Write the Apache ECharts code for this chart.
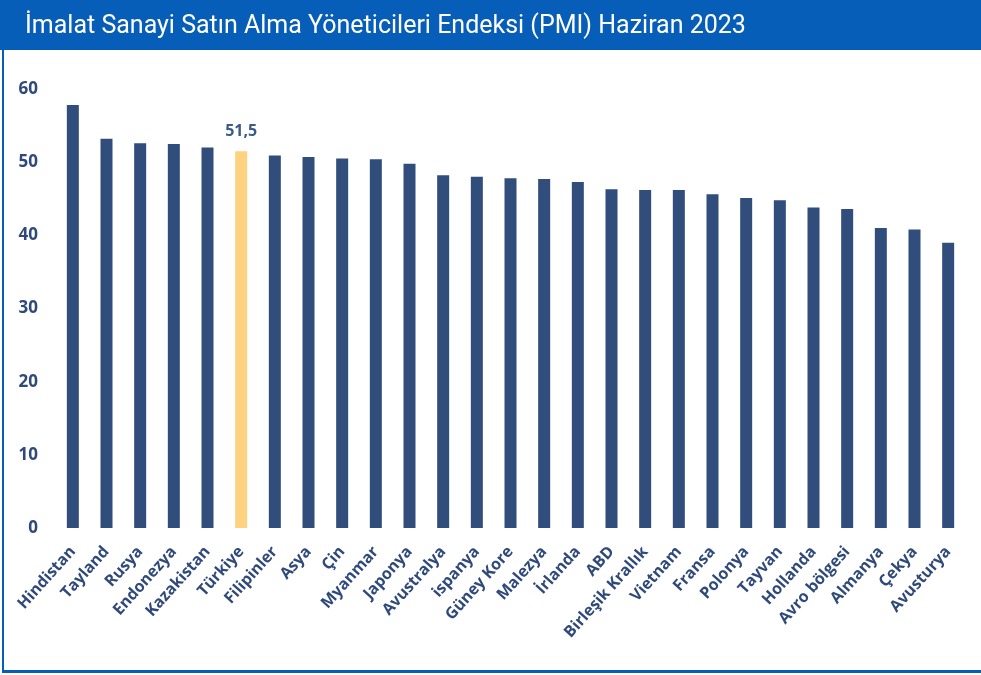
<!DOCTYPE html>
<html>
<head>
<meta charset="utf-8">
<script src="https://cdn.jsdelivr.net/npm/echarts@6/dist/echarts.min.js"></script>
<style>
  html, body { margin: 0; padding: 0; background: #fff; }
  #chart { width: 981px; height: 675px; }
</style>
</head>
<body>
<div id="chart"></div>
<script>
// ülkeler ve Haziran 2023 PMI değerleri
var countries = ['Hindistan', 'Tayland', 'Rusya', 'Endonezya', 'Kazakistan', 'Türkiye', 'Filipinler', 'Asya', 'Çin',
  'Myanmar', 'Japonya', 'Avustralya', 'ispanya', 'Güney Kore', 'Malezya', 'İrlanda', 'ABD', 'Birleşik Krallık',
  'Vietnam', 'Fransa', 'Polonya', 'Tayvan', 'Hollanda', 'Avro bölgesi', 'Almanya', 'Çekya', 'Avusturya']
var pmi = [57.8, 53.2, 52.6, 52.5, 52.0, 51.5, 50.9, 50.7, 50.5,
  50.4, 49.8, 48.2, 48.0, 47.8, 47.7, 47.3, 46.3, 46.2,
  46.2, 45.6, 45.1, 44.8, 43.8, 43.6, 41.0, 40.8, 39.0]
var highlight = 'Türkiye'
var yTicks = [0, 10, 20, 30, 40, 50, 60]

var navy = '#314d7c'
var labelColor = '#2f4a7a'
var frameBlue = '#075eb8'

var chart = echarts.init(document.getElementById('chart'))

chart.setOption({
  animation: false,
  backgroundColor: '#fff',
  title: {
    text: 'İmalat Sanayi Satın Alma Yöneticileri Endeksi (PMI) Haziran 2023',
    left: 20,
    top: 9,
    textStyle: {
      color: '#fff',
      fontFamily: 'Roboto',
      fontWeight: 'normal',
      fontSize: 25
    }
  },
  graphic: [
    { type: 'rect', z: -1, shape: { x: 0, y: 0, width: 981, height: 50 }, style: { fill: frameBlue } },
    { type: 'rect', z: -1, shape: { x: 2, y: 50, width: 2, height: 622 }, style: { fill: frameBlue } },
    { type: 'rect', z: -1, shape: { x: 2, y: 670, width: 979, height: 3 }, style: { fill: frameBlue } }
  ],
  grid: {
    left: 56,
    right: 16,
    top: 89,
    bottom: 147
  },
  xAxis: {
    type: 'category',
    data: countries,
    axisLine: { show: false },
    axisTick: { show: false },
    axisLabel: {
      interval: 0,
      rotate: 48,
      margin: 21,
      color: labelColor,
      fontFamily: 'Open Sans',
      fontWeight: 'bold',
      fontSize: 16
    }
  },
  yAxis: {
    type: 'value',
    min: yTicks[0],
    max: yTicks[yTicks.length - 1],
    interval: 10,
    splitLine: { show: false },
    axisLine: { show: false },
    axisTick: { show: false },
    axisLabel: {
      margin: 18,
      color: labelColor,
      fontFamily: 'Open Sans',
      fontWeight: 'bold',
      fontSize: 17
    }
  },
  series: [{
    type: 'bar',
    barWidth: 12,
    data: pmi.map(function (v, i) {
      var isHl = countries[i] === highlight
      return {
        value: v,
        itemStyle: { color: isHl ? '#ffd27f' : navy },
        label: {
          show: isHl,
          position: 'top',
          distance: 12,
          formatter: function (p) { return String(p.value).replace('.', ',') },
          color: '#3b5a8a',
          fontFamily: 'Open Sans',
          fontWeight: 'bold',
          fontSize: 16
        }
      }
    })
  }]
})
</script>
</body>
</html>
